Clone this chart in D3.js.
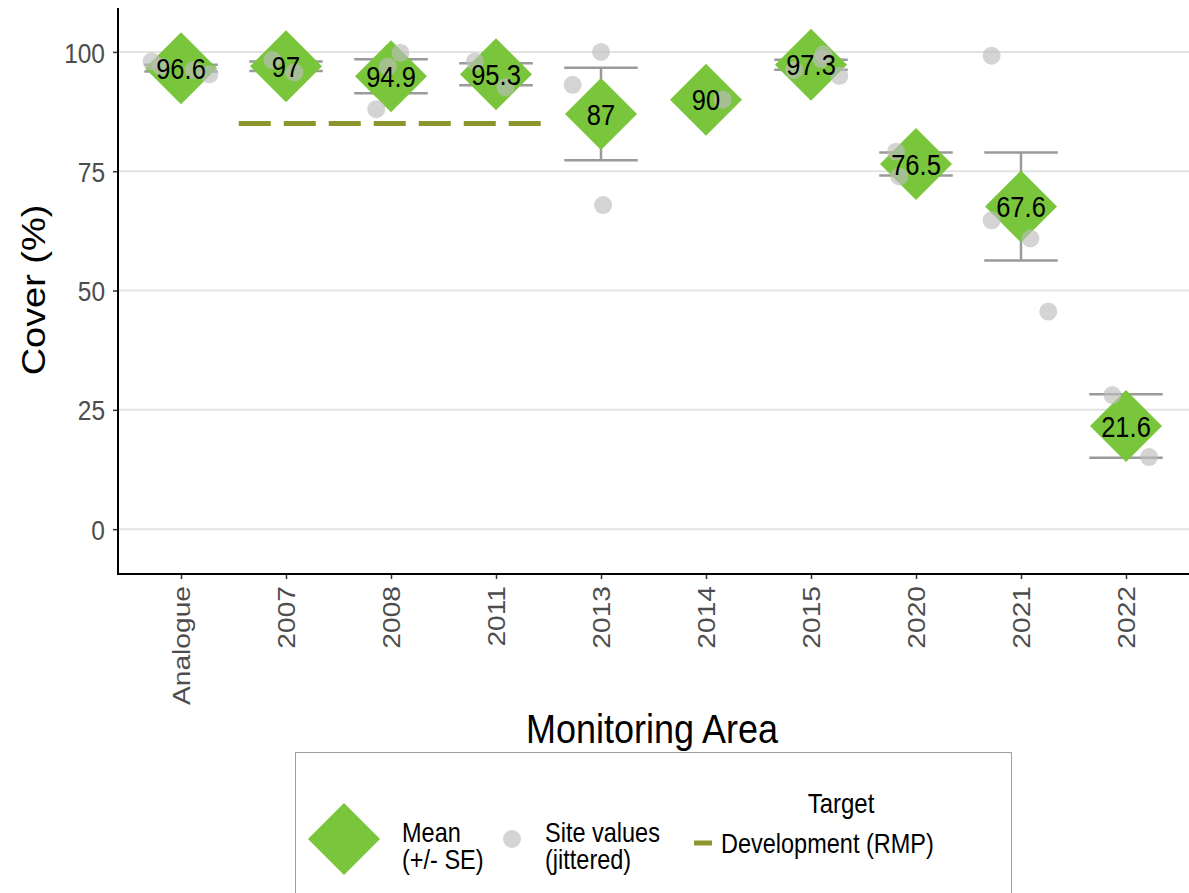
<!DOCTYPE html>
<html>
<head>
<meta charset="utf-8">
<script src="https://cdn.jsdelivr.net/npm/d3@7"></script>
<style>
  html, body { margin: 0; padding: 0; background: #ffffff; }
  svg { display: block; font-family: "Liberation Sans", Arial, sans-serif; }
</style>
</head>
<body>
<svg id="chart" width="1189" height="893"></svg>
<script>
// Monitoring areas along the x axis
const areas = ["Analogue", "2007", "2008", "2011", "2013", "2014", "2015", "2020", "2021", "2022"];
// Mean cover (%) per area
const meanCover = [96.6, 97, 94.9, 95.3, 87, 90, 97.3, 76.5, 67.6, 21.6];
// Standard error of the mean (null where only one site)
const seCover = [0.7, 1.0, 3.55, 2.3, 9.7, null, 1.05, 2.4, 11.3, 6.65];
// Individual site values per area
const siteValues = [
  [98.0, 96.9, 96.2, 95.3],
  [98.3, 95.7],
  [99.8, 96.9, 88.0],
  [98.0, 92.6],
  [100, 93.1, 67.9],
  [90],
  [99.5, 98.5, 96.2, 95.0],
  [79.1, 73.9],
  [99.2, 64.7, 60.9, 45.6],
  [28.1, 15.1]
];
// Horizontal jitter of each site, as a fraction of the category step
const siteJitter = [
  [-0.28, -0.19, 0.12, 0.27],
  [-0.13, 0.08],
  [0.09, -0.03, -0.14],
  [-0.2, 0.09],
  [0.0, -0.27, 0.02],
  [0.16],
  [0.12, 0.1, -0.16, 0.27],
  [-0.19, -0.16],
  [-0.28, -0.28, 0.09, 0.26],
  [-0.13, 0.22]
];
// Development target (RMP) applies to these areas
const targetAreas = ["2007", "2008", "2011"];
const targetValue = 85;
const yTicks = [0, 25, 50, 75, 100];

const svg = d3.select("#chart");

const panel = { left: 118, right: 1189, top: 8, bottom: 574 };
// Glyphs are drawn slightly tall relative to their width
const TALL = 1.15;

const x = d3.scalePoint()
  .domain(areas)
  .range([panel.left, panel.right])
  .padding(0.6);
const step = x.step();

const y = d3.scaleLinear()
  .domain([-9.4, 109.2])
  .range([panel.bottom, panel.top]);

const green = "#79c63c";
const olive = "#8c962c";
const errGrey = "#9a9a9a";

// Place a text at (tx, ty), stretched vertically, optionally rotated
function label(parent, tx, ty, str, size, opts = {}) {
  const g = parent.append("g")
    .attr("transform", `translate(${tx},${ty}) scale(1,${TALL})${opts.rotate ? " rotate(-90)" : ""}`);
  g.append("text")
    .attr("x", 0).attr("y", 0)
    .attr("dy", opts.dy == null ? "0.36em" : opts.dy)
    .attr("text-anchor", opts.anchor || "start")
    .attr("font-size", size)
    .attr("fill", opts.fill || "#000")
    .text(str);
  return g;
}

// Horizontal grid lines
svg.append("g")
  .selectAll("line")
  .data(yTicks)
  .join("line")
  .attr("x1", panel.left)
  .attr("x2", panel.right)
  .attr("y1", d => y(d))
  .attr("y2", d => y(d))
  .attr("stroke", "#e3e3e3")
  .attr("stroke-width", 2);

// Development target line (dashed)
const tx0 = x(targetAreas[0]) - step * 0.45;
const tx1 = x(targetAreas[targetAreas.length - 1]) + step * 0.45;
svg.append("line")
  .attr("x1", tx0)
  .attr("x2", tx1)
  .attr("y1", y(targetValue))
  .attr("y2", y(targetValue))
  .attr("stroke", olive)
  .attr("stroke-width", 5)
  .attr("stroke-dasharray", "32,13");

// Error bars (mean +/- SE)
const rows = areas.map((a, i) => ({ area: a, mean: meanCover[i], se: seCover[i] }));
const errRows = rows.filter(d => d.se != null);
const capHalf = step * 0.35;
svg.append("g")
  .attr("stroke", errGrey)
  .attr("stroke-width", 2.5)
  .attr("fill", "none")
  .selectAll("path")
  .data(errRows)
  .join("path")
  .attr("d", d => {
    const cx = x(d.area);
    const hi = y(d.mean + d.se);
    const lo = y(d.mean - d.se);
    return `M${cx - capHalf},${hi}H${cx + capHalf}M${cx},${hi}V${lo}M${cx - capHalf},${lo}H${cx + capHalf}`;
  });

// Mean diamonds
const dHalf = 36;
const diamond = (cx, cy) => `M${cx},${cy - dHalf}L${cx + dHalf},${cy}L${cx},${cy + dHalf}L${cx - dHalf},${cy}Z`;
svg.append("g")
  .selectAll("path")
  .data(rows)
  .join("path")
  .attr("d", d => diamond(x(d.area), y(d.mean)))
  .attr("fill", green);

// Site values (jittered)
const sites = [];
areas.forEach((a, i) => {
  siteValues[i].forEach((v, j) => sites.push({ area: a, value: v, jit: siteJitter[i][j] }));
});
svg.append("g")
  .selectAll("circle")
  .data(sites)
  .join("circle")
  .attr("cx", d => x(d.area) + d.jit * step)
  .attr("cy", d => y(d.value))
  .attr("r", 9)
  .attr("fill", "#bdbdbd")
  .attr("fill-opacity", 0.65);

// Mean labels
const meanLabels = svg.append("g");
rows.forEach(d => label(meanLabels, x(d.area), y(d.mean), d3.format("~")(d.mean), 25.5, { anchor: "middle" }));

// Y axis
const yAxis = svg.append("g")
  .attr("transform", `translate(${panel.left},0)`)
  .call(d3.axisLeft(y).tickValues(yTicks).tickSize(5).tickPadding(6));
yAxis.select(".domain").remove();
yAxis.selectAll(".tick line").attr("stroke", "#333").attr("stroke-width", 1.5);
yAxis.selectAll(".tick text")
  .attr("font-size", 24.5)
  .attr("fill", "#4d4d4d")
  .attr("font-family", "Liberation Sans, Arial, sans-serif")
  .attr("x", 0)
  .attr("dy", "0.36em")
  .attr("transform", `translate(-13,0) scale(1,${TALL})`);

// X axis
const xAxis = svg.append("g")
  .attr("transform", `translate(0,${panel.bottom})`)
  .call(d3.axisBottom(x).tickSize(5).tickPadding(6));
xAxis.select(".domain").remove();
xAxis.selectAll(".tick line").attr("stroke", "#333").attr("stroke-width", 1.5);
xAxis.selectAll(".tick text")
  .attr("font-size", 24.5)
  .attr("fill", "#4d4d4d")
  .attr("font-family", "Liberation Sans, Arial, sans-serif")
  .attr("text-anchor", "end")
  .attr("x", 0)
  .attr("y", 0)
  .attr("dy", "0.36em")
  .attr("transform", `translate(0,12) scale(1,${TALL}) rotate(-90)`);

// Axis lines
svg.append("path")
  .attr("d", `M${panel.left},${panel.top}V${panel.bottom}H${panel.right}`)
  .attr("fill", "none")
  .attr("stroke", "#000")
  .attr("stroke-width", 2);

// Axis titles
label(svg, 33, 290, "Cover (%)", 33, { anchor: "middle", rotate: true });
label(svg, 652, 728, "Monitoring Area", 36, { anchor: "middle" });

// Legend
const lg = svg.append("g");
lg.append("rect")
  .attr("x", 295.5).attr("y", 752.5)
  .attr("width", 716).attr("height", 150)
  .attr("fill", "#fff")
  .attr("stroke", "#9e9e9e")
  .attr("stroke-width", 1);

lg.append("path")
  .attr("d", diamond(344, 839))
  .attr("fill", green);
label(lg, 402, 832, "Mean", 23.5);
label(lg, 402, 859, "(+/- SE)", 23.5);

lg.append("circle")
  .attr("cx", 512).attr("cy", 839).attr("r", 9)
  .attr("fill", "#bdbdbd").attr("fill-opacity", 0.65);
label(lg, 545, 832, "Site values", 23.5);
label(lg, 545, 859, "(jittered)", 23.5);

label(lg, 841, 803, "Target", 24, { anchor: "middle" });
lg.append("line")
  .attr("x1", 694).attr("x2", 712)
  .attr("y1", 843).attr("y2", 843)
  .attr("stroke", olive).attr("stroke-width", 5);
label(lg, 721, 843, "Development (RMP)", 23.5);
</script>
</body>
</html>
